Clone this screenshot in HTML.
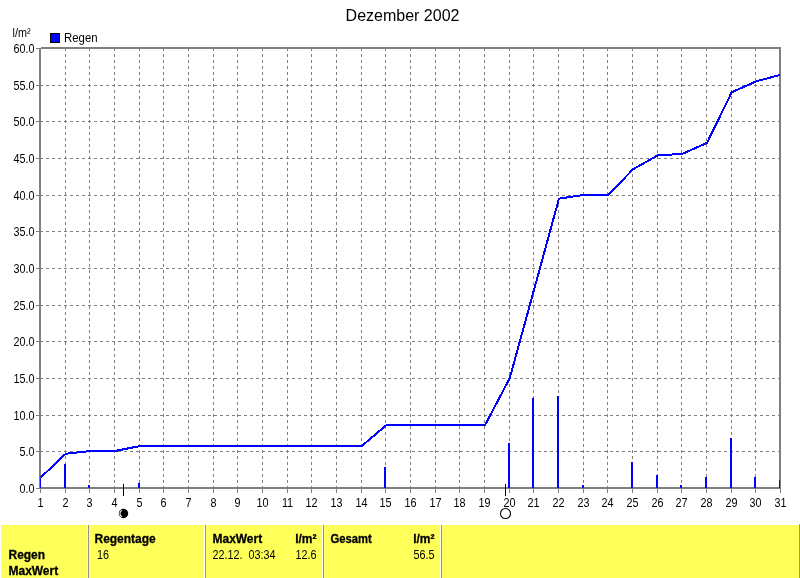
<!DOCTYPE html>
<html lang="de"><head><meta charset="utf-8"><title>Dezember 2002</title>
<style>html,body{margin:0;padding:0;background:#fff;overflow:hidden}svg{display:block}text{font-family:"Liberation Sans",sans-serif;fill:#000}.t{font-size:12.5px}.b{font-size:12.5px;font-weight:bold;stroke:#000;stroke-width:0.3px}.ttl{font-size:16px}</style></head><body>
<svg width="800" height="578" viewBox="0 0 800 578">
<rect x="0" y="0" width="800" height="578" fill="#fff"/>
<g shape-rendering="crispEdges" stroke="#808080" stroke-width="1" fill="none">
<line x1="40" y1="85.5" x2="779" y2="85.5" stroke-dasharray="3 3" stroke-dashoffset="0"/>
<line x1="40" y1="121.5" x2="779" y2="121.5" stroke-dasharray="3 3" stroke-dashoffset="0"/>
<line x1="40" y1="158.5" x2="779" y2="158.5" stroke-dasharray="3 3" stroke-dashoffset="0"/>
<line x1="40" y1="195.5" x2="779" y2="195.5" stroke-dasharray="3 3" stroke-dashoffset="0"/>
<line x1="40" y1="231.5" x2="779" y2="231.5" stroke-dasharray="3 3" stroke-dashoffset="0"/>
<line x1="40" y1="268.5" x2="779" y2="268.5" stroke-dasharray="3 3" stroke-dashoffset="0"/>
<line x1="40" y1="305.5" x2="779" y2="305.5" stroke-dasharray="3 3" stroke-dashoffset="0"/>
<line x1="40" y1="341.5" x2="779" y2="341.5" stroke-dasharray="3 3" stroke-dashoffset="0"/>
<line x1="40" y1="378.5" x2="779" y2="378.5" stroke-dasharray="3 3" stroke-dashoffset="0"/>
<line x1="40" y1="415.5" x2="779" y2="415.5" stroke-dasharray="3 3" stroke-dashoffset="0"/>
<line x1="40" y1="451.5" x2="779" y2="451.5" stroke-dasharray="3 3" stroke-dashoffset="0"/>
<line x1="65.5" y1="48" x2="65.5" y2="487" stroke-dasharray="3 3" stroke-dashoffset="0"/>
<line x1="89.5" y1="48" x2="89.5" y2="487" stroke-dasharray="3 3" stroke-dashoffset="0"/>
<line x1="114.5" y1="48" x2="114.5" y2="487" stroke-dasharray="3 3" stroke-dashoffset="0"/>
<line x1="139.5" y1="48" x2="139.5" y2="487" stroke-dasharray="3 3" stroke-dashoffset="0"/>
<line x1="163.5" y1="48" x2="163.5" y2="487" stroke-dasharray="3 3" stroke-dashoffset="0"/>
<line x1="188.5" y1="48" x2="188.5" y2="487" stroke-dasharray="3 3" stroke-dashoffset="0"/>
<line x1="213.5" y1="48" x2="213.5" y2="487" stroke-dasharray="3 3" stroke-dashoffset="0"/>
<line x1="237.5" y1="48" x2="237.5" y2="487" stroke-dasharray="3 3" stroke-dashoffset="0"/>
<line x1="262.5" y1="48" x2="262.5" y2="487" stroke-dasharray="3 3" stroke-dashoffset="0"/>
<line x1="287.5" y1="48" x2="287.5" y2="487" stroke-dasharray="3 3" stroke-dashoffset="0"/>
<line x1="311.5" y1="48" x2="311.5" y2="487" stroke-dasharray="3 3" stroke-dashoffset="0"/>
<line x1="336.5" y1="48" x2="336.5" y2="487" stroke-dasharray="3 3" stroke-dashoffset="0"/>
<line x1="361.5" y1="48" x2="361.5" y2="487" stroke-dasharray="3 3" stroke-dashoffset="0"/>
<line x1="385.5" y1="48" x2="385.5" y2="487" stroke-dasharray="3 3" stroke-dashoffset="0"/>
<line x1="410.5" y1="48" x2="410.5" y2="487" stroke-dasharray="3 3" stroke-dashoffset="0"/>
<line x1="435.5" y1="48" x2="435.5" y2="487" stroke-dasharray="3 3" stroke-dashoffset="0"/>
<line x1="459.5" y1="48" x2="459.5" y2="487" stroke-dasharray="3 3" stroke-dashoffset="0"/>
<line x1="484.5" y1="48" x2="484.5" y2="487" stroke-dasharray="3 3" stroke-dashoffset="0"/>
<line x1="509.5" y1="48" x2="509.5" y2="487" stroke-dasharray="3 3" stroke-dashoffset="0"/>
<line x1="533.5" y1="48" x2="533.5" y2="487" stroke-dasharray="3 3" stroke-dashoffset="0"/>
<line x1="558.5" y1="48" x2="558.5" y2="487" stroke-dasharray="3 3" stroke-dashoffset="0"/>
<line x1="583.5" y1="48" x2="583.5" y2="487" stroke-dasharray="3 3" stroke-dashoffset="0"/>
<line x1="607.5" y1="48" x2="607.5" y2="487" stroke-dasharray="3 3" stroke-dashoffset="0"/>
<line x1="632.5" y1="48" x2="632.5" y2="487" stroke-dasharray="3 3" stroke-dashoffset="0"/>
<line x1="657.5" y1="48" x2="657.5" y2="487" stroke-dasharray="3 3" stroke-dashoffset="0"/>
<line x1="681.5" y1="48" x2="681.5" y2="487" stroke-dasharray="3 3" stroke-dashoffset="0"/>
<line x1="706.5" y1="48" x2="706.5" y2="487" stroke-dasharray="3 3" stroke-dashoffset="0"/>
<line x1="731.5" y1="48" x2="731.5" y2="487" stroke-dasharray="3 3" stroke-dashoffset="0"/>
<line x1="755.5" y1="48" x2="755.5" y2="487" stroke-dasharray="3 3" stroke-dashoffset="0"/>
<line x1="36" y1="48.5" x2="39" y2="48.5"/>
<line x1="36" y1="85.5" x2="39" y2="85.5"/>
<line x1="36" y1="121.5" x2="39" y2="121.5"/>
<line x1="36" y1="158.5" x2="39" y2="158.5"/>
<line x1="36" y1="195.5" x2="39" y2="195.5"/>
<line x1="36" y1="231.5" x2="39" y2="231.5"/>
<line x1="36" y1="268.5" x2="39" y2="268.5"/>
<line x1="36" y1="305.5" x2="39" y2="305.5"/>
<line x1="36" y1="341.5" x2="39" y2="341.5"/>
<line x1="36" y1="378.5" x2="39" y2="378.5"/>
<line x1="36" y1="415.5" x2="39" y2="415.5"/>
<line x1="36" y1="451.5" x2="39" y2="451.5"/>
<line x1="36" y1="488.5" x2="39" y2="488.5"/>
<line x1="40.5" y1="489" x2="40.5" y2="493"/>
<line x1="65.5" y1="489" x2="65.5" y2="493"/>
<line x1="89.5" y1="489" x2="89.5" y2="493"/>
<line x1="114.5" y1="489" x2="114.5" y2="493"/>
<line x1="139.5" y1="489" x2="139.5" y2="493"/>
<line x1="163.5" y1="489" x2="163.5" y2="493"/>
<line x1="188.5" y1="489" x2="188.5" y2="493"/>
<line x1="213.5" y1="489" x2="213.5" y2="493"/>
<line x1="237.5" y1="489" x2="237.5" y2="493"/>
<line x1="262.5" y1="489" x2="262.5" y2="493"/>
<line x1="287.5" y1="489" x2="287.5" y2="493"/>
<line x1="311.5" y1="489" x2="311.5" y2="493"/>
<line x1="336.5" y1="489" x2="336.5" y2="493"/>
<line x1="361.5" y1="489" x2="361.5" y2="493"/>
<line x1="385.5" y1="489" x2="385.5" y2="493"/>
<line x1="410.5" y1="489" x2="410.5" y2="493"/>
<line x1="435.5" y1="489" x2="435.5" y2="493"/>
<line x1="459.5" y1="489" x2="459.5" y2="493"/>
<line x1="484.5" y1="489" x2="484.5" y2="493"/>
<line x1="509.5" y1="489" x2="509.5" y2="493"/>
<line x1="533.5" y1="489" x2="533.5" y2="493"/>
<line x1="558.5" y1="489" x2="558.5" y2="493"/>
<line x1="583.5" y1="489" x2="583.5" y2="493"/>
<line x1="607.5" y1="489" x2="607.5" y2="493"/>
<line x1="632.5" y1="489" x2="632.5" y2="493"/>
<line x1="657.5" y1="489" x2="657.5" y2="493"/>
<line x1="681.5" y1="489" x2="681.5" y2="493"/>
<line x1="706.5" y1="489" x2="706.5" y2="493"/>
<line x1="731.5" y1="489" x2="731.5" y2="493"/>
<line x1="755.5" y1="489" x2="755.5" y2="493"/>
<line x1="780.5" y1="489" x2="780.5" y2="493"/>
</g>
<rect x="40" y="48" width="740" height="440" fill="none" stroke="#808080" stroke-width="2" shape-rendering="crispEdges"/>
<rect x="39" y="47" width="2" height="1" fill="#fff" shape-rendering="crispEdges"/>
<defs><clipPath id="pc2"><rect x="40" y="40" width="740" height="450"/></clipPath><clipPath id="pc"><rect x="40" y="47" width="740" height="441"/></clipPath></defs>
<g shape-rendering="crispEdges" fill="#0000ff" clip-path="url(#pc)">
<rect x="39" y="478" width="2" height="10"/>
<rect x="64" y="464" width="2" height="24"/>
<rect x="88" y="485" width="2" height="3"/>
<rect x="138" y="483" width="2" height="5"/>
<rect x="384" y="467" width="2" height="21"/>
<rect x="508" y="443" width="2" height="45"/>
<rect x="532" y="398" width="2" height="90"/>
<rect x="557" y="396" width="2" height="92"/>
<rect x="582" y="485" width="2" height="3"/>
<rect x="631" y="462" width="2" height="26"/>
<rect x="656" y="475" width="2" height="13"/>
<rect x="680" y="485" width="2" height="3"/>
<rect x="705" y="477" width="2" height="11"/>
<rect x="730" y="438" width="2" height="50"/>
<rect x="754" y="477" width="2" height="11"/>
<rect x="779" y="480" width="2" height="8"/>
</g>
<polyline points="41.0,477.2 65.7,453.8 90.3,451.0 115.0,451.0 139.7,446.1 164.3,446.1 189.0,446.1 213.7,446.1 238.3,446.1 263.0,446.1 287.7,446.1 312.3,446.1 337.0,446.1 361.7,446.1 386.3,425.2 411.0,425.2 435.7,425.2 460.3,425.2 485.0,425.2 509.7,378.3 534.3,288.8 559.0,198.6 583.7,195.0 608.3,195.0 633.0,169.3 657.7,155.4 682.3,153.9 707.0,142.9 731.7,92.3 756.3,81.3 781.0,74.7" fill="none" stroke="#0000ff" stroke-width="2" stroke-linejoin="round" shape-rendering="crispEdges" clip-path="url(#pc2)"/>
<g shape-rendering="crispEdges"><rect x="123" y="484" width="1" height="12" fill="#000"/><rect x="505" y="484" width="1" height="12" fill="#000"/></g>
<circle cx="123.5" cy="513.5" r="4.7" fill="#000"/>
<path d="M122 510.3 A3.5 3.5 0 0 0 122 516.7" fill="none" stroke="#fff" stroke-width="1.1"/>
<circle cx="505.5" cy="513.5" r="5" fill="#fff" stroke="#000" stroke-width="1.1"/>
<text class="ttl" x="402.5" y="20.5" text-anchor="middle">Dezember 2002</text>
<text class="t" transform="translate(12.5 37) scale(0.865 1)">l/m²</text>
<rect x="50.5" y="33.5" width="9" height="9" fill="#0000ff" stroke="#000" stroke-width="1" shape-rendering="crispEdges"/>
<text class="t" transform="translate(64 42) scale(0.914 1)">Regen</text>
<text class="t" transform="translate(34.5 53) scale(0.865 1)" text-anchor="end">60.0</text>
<text class="t" transform="translate(34.5 90) scale(0.865 1)" text-anchor="end">55.0</text>
<text class="t" transform="translate(34.5 126) scale(0.865 1)" text-anchor="end">50.0</text>
<text class="t" transform="translate(34.5 163) scale(0.865 1)" text-anchor="end">45.0</text>
<text class="t" transform="translate(34.5 200) scale(0.865 1)" text-anchor="end">40.0</text>
<text class="t" transform="translate(34.5 236) scale(0.865 1)" text-anchor="end">35.0</text>
<text class="t" transform="translate(34.5 273) scale(0.865 1)" text-anchor="end">30.0</text>
<text class="t" transform="translate(34.5 310) scale(0.865 1)" text-anchor="end">25.0</text>
<text class="t" transform="translate(34.5 346) scale(0.865 1)" text-anchor="end">20.0</text>
<text class="t" transform="translate(34.5 383) scale(0.865 1)" text-anchor="end">15.0</text>
<text class="t" transform="translate(34.5 420) scale(0.865 1)" text-anchor="end">10.0</text>
<text class="t" transform="translate(34.5 456) scale(0.865 1)" text-anchor="end">5.0</text>
<text class="t" transform="translate(34.5 493) scale(0.865 1)" text-anchor="end">0.0</text>
<text class="t" transform="translate(40.5 507) scale(0.865 1)" text-anchor="middle">1</text>
<text class="t" transform="translate(65.5 507) scale(0.865 1)" text-anchor="middle">2</text>
<text class="t" transform="translate(89.5 507) scale(0.865 1)" text-anchor="middle">3</text>
<text class="t" transform="translate(114.5 507) scale(0.865 1)" text-anchor="middle">4</text>
<text class="t" transform="translate(139.5 507) scale(0.865 1)" text-anchor="middle">5</text>
<text class="t" transform="translate(163.5 507) scale(0.865 1)" text-anchor="middle">6</text>
<text class="t" transform="translate(188.5 507) scale(0.865 1)" text-anchor="middle">7</text>
<text class="t" transform="translate(213.5 507) scale(0.865 1)" text-anchor="middle">8</text>
<text class="t" transform="translate(237.5 507) scale(0.865 1)" text-anchor="middle">9</text>
<text class="t" transform="translate(262.5 507) scale(0.865 1)" text-anchor="middle">10</text>
<text class="t" transform="translate(287.5 507) scale(0.865 1)" text-anchor="middle">11</text>
<text class="t" transform="translate(311.5 507) scale(0.865 1)" text-anchor="middle">12</text>
<text class="t" transform="translate(336.5 507) scale(0.865 1)" text-anchor="middle">13</text>
<text class="t" transform="translate(361.5 507) scale(0.865 1)" text-anchor="middle">14</text>
<text class="t" transform="translate(385.5 507) scale(0.865 1)" text-anchor="middle">15</text>
<text class="t" transform="translate(410.5 507) scale(0.865 1)" text-anchor="middle">16</text>
<text class="t" transform="translate(435.5 507) scale(0.865 1)" text-anchor="middle">17</text>
<text class="t" transform="translate(459.5 507) scale(0.865 1)" text-anchor="middle">18</text>
<text class="t" transform="translate(484.5 507) scale(0.865 1)" text-anchor="middle">19</text>
<text class="t" transform="translate(509.5 507) scale(0.865 1)" text-anchor="middle">20</text>
<text class="t" transform="translate(533.5 507) scale(0.865 1)" text-anchor="middle">21</text>
<text class="t" transform="translate(558.5 507) scale(0.865 1)" text-anchor="middle">22</text>
<text class="t" transform="translate(583.5 507) scale(0.865 1)" text-anchor="middle">23</text>
<text class="t" transform="translate(607.5 507) scale(0.865 1)" text-anchor="middle">24</text>
<text class="t" transform="translate(632.5 507) scale(0.865 1)" text-anchor="middle">25</text>
<text class="t" transform="translate(657.5 507) scale(0.865 1)" text-anchor="middle">26</text>
<text class="t" transform="translate(681.5 507) scale(0.865 1)" text-anchor="middle">27</text>
<text class="t" transform="translate(706.5 507) scale(0.865 1)" text-anchor="middle">28</text>
<text class="t" transform="translate(731.5 507) scale(0.865 1)" text-anchor="middle">29</text>
<text class="t" transform="translate(755.5 507) scale(0.865 1)" text-anchor="middle">30</text>
<text class="t" transform="translate(780.5 507) scale(0.865 1)" text-anchor="middle">31</text>
<g shape-rendering="crispEdges">
<rect x="1" y="525" width="798" height="53" fill="#ffff5a"/>
<rect x="799" y="524" width="1" height="54" fill="#999"/>
<rect x="87" y="525" width="1" height="53" fill="#fff"/><rect x="88" y="525" width="1" height="53" fill="#959595"/>
<rect x="204" y="525" width="1" height="53" fill="#fff"/><rect x="205" y="525" width="1" height="53" fill="#959595"/>
<rect x="322" y="525" width="1" height="53" fill="#fff"/><rect x="323" y="525" width="1" height="53" fill="#959595"/>
<rect x="440" y="525" width="1" height="53" fill="#fff"/><rect x="441" y="525" width="1" height="53" fill="#959595"/>
</g>
<text class="b" transform="translate(8.5 559) scale(0.958 1)">Regen</text>
<text class="b" transform="translate(8.5 575) scale(0.958 1)">MaxWert</text>
<text class="b" transform="translate(94.5 543) scale(0.958 1)">Regentage</text>
<text class="t" transform="translate(97 559) scale(0.865 1)">16</text>
<text class="b" transform="translate(212.5 543) scale(0.958 1)">MaxWert</text>
<text class="b" transform="translate(316.5 543) scale(0.958 1)" text-anchor="end">l/m²</text>
<text class="t" transform="translate(212.5 559) scale(0.865 1)" xml:space="preserve">22.12.  03:34</text>
<text class="t" transform="translate(316.5 559) scale(0.865 1)" text-anchor="end">12.6</text>
<text class="b" transform="translate(330.5 543) scale(0.9 1)">Gesamt</text>
<text class="b" transform="translate(434.5 543) scale(0.958 1)" text-anchor="end">l/m²</text>
<text class="t" transform="translate(434.5 559) scale(0.865 1)" text-anchor="end">56.5</text>
</svg></body></html>
